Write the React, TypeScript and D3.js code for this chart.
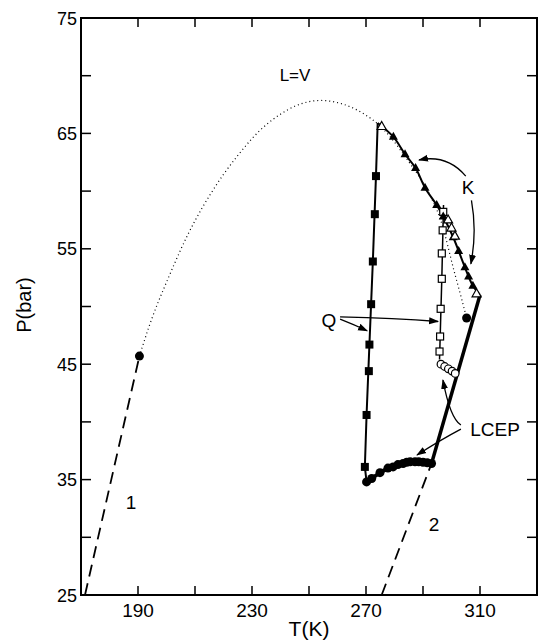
import React from 'react';
import * as d3 from 'd3';

// T (K), P (bar)
const lvCurve: [number, number][] = [
  [190.5, 45.7], [195, 49.2], [200, 52.1], [205, 55.0], [210, 57.5], [215, 59.6],
  [220, 61.5], [225, 63.1], [230, 64.6], [235, 65.8], [240, 66.7], [245, 67.4],
  [250, 67.8], [255, 67.9], [260, 67.7], [265, 67.3], [270, 66.6], [274, 65.9],
  [278, 64.9], [282, 63.6], [286, 62.2], [290, 60.8], [293, 59.4], [296, 57.8],
  [298.5, 55.5], [300.5, 53.4], [303, 51.2], [305.3, 49.0],
];
const q1Line: [number, number][] = [[274.1, 65.9], [273.5, 61.3], [272.4, 53.9], [271.2, 46.7], [270.2, 40.6], [269.6, 36.1], [270.2, 34.8]];
const q1Squares: [number, number][] = [
  [273.5, 61.3], [273.1, 58.0], [272.4, 53.9], [271.8, 50.2], [271.2, 46.7],
  [271.0, 44.4], [270.2, 40.6], [269.6, 36.1],
];
const q2Line: [number, number][] = [[297.2, 58.8], [296.6, 52.4], [295.8, 45.4]];
const q2Squares: [number, number][] = [
  [297.1, 58.2], [296.9, 56.6], [296.6, 54.6], [296.6, 52.4], [296.2, 49.8],
  [296.0, 47.4], [295.8, 46.1],
];
const openCircles: [number, number][] = [[296.3, 45.0], [297.6, 44.8], [298.9, 44.6], [300.2, 44.4], [301.3, 44.2]];
const kLine: [number, number][] = [
  [274.1, 65.9], [279.6, 64.7], [283.7, 63.2], [287.4, 62.0], [290.7, 60.3], [294.8, 58.8],
  [297.1, 57.8], [300.6, 56.0], [304.7, 53.4], [307.5, 51.8], [310, 51.0],
];
const kFilled: [number, number][] = [
  [279.6, 64.7], [283.7, 63.2], [287.4, 62.0], [290.7, 60.3], [294.8, 58.8],
  [297.1, 57.8], [300.6, 56.0], [302.5, 54.8], [304.7, 53.4], [306, 52.6], [307.5, 51.8],
];
const kOpen: [number, number][] = [[275.5, 65.6], [298.8, 57.5], [300, 56.8], [301.2, 56.1], [308.8, 51.1]];
const lcepCurve: [number, number][] = [
  [270.2, 34.8], [272, 35.1], [274.9, 35.6], [277.7, 36.0], [279.5, 36.1], [281.2, 36.3],
  [283, 36.4], [284.3, 36.5], [285.5, 36.55], [287.2, 36.55], [288.5, 36.55], [290, 36.5],
  [291.5, 36.45], [293, 36.4],
];
const thickLine: [number, number][] = [[293, 36.4], [310, 51.0]];
const filledDots: [number, number][] = [[190.5, 45.7], [305.3, 49.0]];
const dash1: [number, number][] = [[171.4, 25], [190.5, 45.7]];
const dash2: [number, number][] = [[275.5, 25], [293, 36.4]];

const xTicks = d3.range(170, 331, 20);
const xLabels = [190, 230, 270, 310];
const yTicks = d3.range(25, 76, 5);
const yLabels = [25, 35, 45, 55, 65, 75];

// annotation arrows, [start, control, tip] in T,P
const arrows: [number, number][][] = [
  [[305.0, 61.3], [298.5, 63.2], [288.6, 62.7]],
  [[307.0, 59.2], [309.0, 56.5], [306.8, 53.7]],
  [[260.9, 49.1], [280.0, 49.0], [295.3, 48.7]],
  [[260.9, 48.9], [266.0, 48.4], [270.4, 47.9]],
  [[303.3, 39.73], [299.5, 40.34], [297.0, 43.63]],
  [[303.3, 39.38], [296.0, 38.43], [287.9, 37.13]],
];

const W = 540;
const H = 640;
const font = "'Liberation Sans', Arial, sans-serif";

export default function App() {
  const x = d3.scaleLinear([170, 330], [81, 537]);
  const y = d3.scaleLinear([25, 75], [595, 18]);
  const line = d3.line<[number, number]>().x((d) => x(d[0])).y((d) => y(d[1]));
  const curve = d3.line<[number, number]>().x((d) => x(d[0])).y((d) => y(d[1])).curve(d3.curveBasis);
  const smooth = d3.line<[number, number]>().x((d) => x(d[0])).y((d) => y(d[1])).curve(d3.curveCatmullRom);

  const tri = (cx: number, cy: number, s: number) =>
    `M${cx},${cy - s}L${cx + s * 0.9},${cy + s * 0.6}L${cx - s * 0.9},${cy + s * 0.6}Z`;

  return (
    <svg width={W} height={H} style={{ position: 'absolute', left: 0, top: 0, background: '#fff' }}>
      <defs>
        <marker id="ah" viewBox="0 0 10 10" refX="9" refY="5" markerWidth="10" markerHeight="10" orient="auto" markerUnits="userSpaceOnUse">
          <path d="M0,1.5L10,5L0,8.5Z" fill="#000" />
        </marker>
      </defs>

      {/* frame */}
      <rect x={x(170)} y={y(75)} width={x(330) - x(170)} height={y(25) - y(75)} fill="none" stroke="#000" strokeWidth={2} />
      {xTicks.map((t) => (
        <g key={`x${t}`}>
          <line x1={x(t)} x2={x(t)} y1={y(25)} y2={y(25) - 9} stroke="#000" strokeWidth={1.5} />
          <line x1={x(t)} x2={x(t)} y1={y(75)} y2={y(75) + 9} stroke="#000" strokeWidth={1.5} />
        </g>
      ))}
      {yTicks.map((p) => (
        <g key={`y${p}`}>
          <line x1={x(170)} x2={x(170) + 10} y1={y(p)} y2={y(p)} stroke="#000" strokeWidth={1.5} />
          <line x1={x(330)} x2={x(330) - 10} y1={y(p)} y2={y(p)} stroke="#000" strokeWidth={1.5} />
        </g>
      ))}
      {xLabels.map((t) => (
        <text key={`xl${t}`} x={x(t)} y={617} textAnchor="middle" fontFamily={font} fontSize={19}>{t}</text>
      ))}
      {yLabels.map((p) => (
        <text key={`yl${p}`} x={77} y={y(p) + 6.5} textAnchor="end" fontFamily={font} fontSize={18}>{p}</text>
      ))}
      <text x={309} y={636} textAnchor="middle" fontFamily={font} fontSize={21}>T(K)</text>
      <text transform="translate(31,305) rotate(-90)" textAnchor="middle" fontFamily={font} fontSize={20}>P(bar)</text>

      {/* L=V dotted */}
      <path d={curve(lvCurve) ?? ''} fill="none" stroke="#000" strokeWidth={1.2} strokeDasharray="1 3" />
      <path d={line(dash1) ?? ''} fill="none" stroke="#000" strokeWidth={1.8} strokeDasharray="12 7" />
      <path d={line(dash2) ?? ''} fill="none" stroke="#000" strokeWidth={1.8} strokeDasharray="12 7" />

      <path d={line(q1Line) ?? ''} fill="none" stroke="#000" strokeWidth={2} />
      <path d={line(q2Line) ?? ''} fill="none" stroke="#000" strokeWidth={1.5} />
      <path d={smooth(kLine) ?? ''} fill="none" stroke="#000" strokeWidth={2} />
      <path d={curve(lcepCurve) ?? ''} fill="none" stroke="#000" strokeWidth={4} />
      <path d={line(thickLine) ?? ''} fill="none" stroke="#000" strokeWidth={3.5} />

      {q1Squares.map(([t, p], i) => (
        <rect key={`qs${i}`} x={x(t) - 4} y={y(p) - 4} width={8} height={8} fill="#000" />
      ))}
      {q2Squares.map(([t, p], i) => (
        <rect key={`qo${i}`} x={x(t) - 3.5} y={y(p) - 3.5} width={7} height={7} fill="#fff" stroke="#000" strokeWidth={1.2} />
      ))}
      {openCircles.map(([t, p], i) => (
        <circle key={`oc${i}`} cx={x(t)} cy={y(p)} r={3.8} fill="#fff" stroke="#000" strokeWidth={1.2} />
      ))}
      {kFilled.map(([t, p], i) => (
        <path key={`kf${i}`} d={tri(x(t), y(p), 5)} fill="#000" />
      ))}
      {kOpen.map(([t, p], i) => (
        <path key={`ko${i}`} d={tri(x(t), y(p), 5)} fill="#fff" stroke="#000" strokeWidth={1.2} />
      ))}
      {lcepCurve.map(([t, p], i) => (
        <circle key={`lc${i}`} cx={x(t)} cy={y(p)} r={4.5} fill="#000" />
      ))}
      {filledDots.map(([t, p], i) => (
        <circle key={`fd${i}`} cx={x(t)} cy={y(p)} r={4.5} fill="#000" />
      ))}

      {arrows.map((a, i) => (
        <path
          key={`ar${i}`}
          d={`M${x(a[0][0])},${y(a[0][1])}Q${x(a[1][0])},${y(a[1][1])} ${x(a[2][0])},${y(a[2][1])}`}
          fill="none"
          stroke="#000"
          strokeWidth={1.3}
          markerEnd="url(#ah)"
        />
      ))}

      <text x={295} y={81} textAnchor="middle" fontFamily={font} fontSize={17}>L=V</text>
      <text x={468} y={194} textAnchor="middle" fontFamily={font} fontSize={19}>K</text>
      <text x={329} y={327} textAnchor="middle" fontFamily={font} fontSize={19}>Q</text>
      <text x={495} y={436} textAnchor="middle" fontFamily={font} fontSize={19}>LCEP</text>
      <text x={131} y={509} textAnchor="middle" fontFamily={font} fontSize={19}>1</text>
      <text x={434} y={531} textAnchor="middle" fontFamily={font} fontSize={19}>2</text>
    </svg>
  );
}
